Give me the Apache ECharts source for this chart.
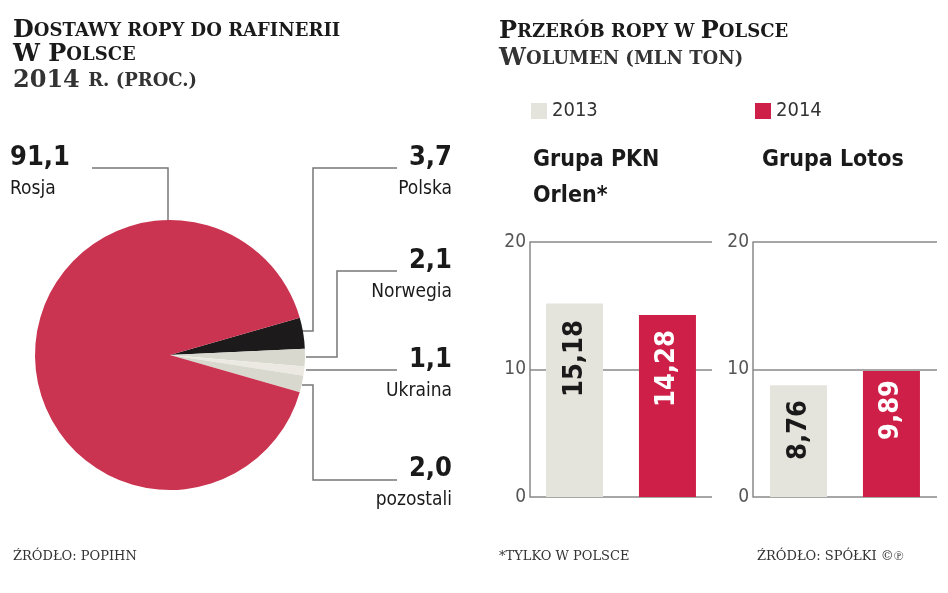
<!DOCTYPE html>
<html><head><meta charset="utf-8">
<script src="https://cdn.jsdelivr.net/npm/echarts@6/dist/echarts.min.js"></script>
<style>html,body{margin:0;background:#fff}#c{width:948px;height:593px}</style>
</head><body><div id="c"></div>
<script>
const pieNames = ['Polska','Norwegia','Ukraina','pozostali','Rosja'];
const pieValues = [3.7, 2.1, 1.1, 2.0, 91.1];
const pieColors = ['#1c1a1b','#d8d8ce','#ebe9e1','#d8d8ce','#cb3451'];
const groups = ['Grupa PKN Orlen*','Grupa Lotos'];
const years = ['2013','2014'];
const v2013 = [15.18, 8.76];
const v2014 = [14.28, 9.89];
const yTicks = [0,10,20];

const F = 'DejaVu Sans Condensed, DejaVu Sans, sans-serif';
const S = 'DejaVu Serif, serif';
const fmt = v => String(v.toFixed(2)).replace('.', ',');
const fmt1 = v => v.toFixed(1).replace('.', ',');

const lab = {
  Rosja:    {x:10,  y:140, align:'left',  pts:[[168,221],[168,168],[92,168]]},
  Polska:   {x:452, y:140, align:'right', pts:[[302,331],[313,331],[313,168],[397,168]]},
  Norwegia: {x:452, y:243, align:'right', pts:[[306,357],[337,357],[337,271],[397,271]]},
  Ukraina:  {x:452, y:342, align:'right', pts:[[306,370],[397,370]]},
  pozostali:{x:452, y:451, align:'right', pts:[[302,385],[313,385],[313,480],[397,480]]}
};
const barLabelDist = [[100,90],[37,57]];

const chart = echarts.init(document.getElementById('c'));
const grids = [{left:530,width:182,top:242,height:255},{left:753,width:184,top:242,height:255}];
const series = [{
  type:'pie', center:[170,355], radius:135, startAngle:16, clockwise:true,
  animation:false, silent:true, avoidLabelOverlap:false,
  data: pieNames.map((n,i)=>({name:n,value:pieValues[i],itemStyle:{color:pieColors[i]}})),
  label:{show:true, formatter:p=>'{v|'+fmt1(p.value)+'}\n{n|'+p.name+'}',
    rich:{v:{fontFamily:F,fontWeight:'bold',fontSize:27,color:'#1a1a1a',lineHeight:36},
          n:{fontFamily:F,fontSize:19,color:'#1a1a1a',lineHeight:26}}},
  labelLine:{show:true, lineStyle:{color:'#777',width:1.5}},
  labelLayout: p => { const l = lab[pieNames[p.dataIndex]];
    return {x:l.x, y:l.y, align:l.align, verticalAlign:'top', hideOverlap:false, moveOverlap:null, labelLinePoints:l.pts}; }
}];
[0,1].forEach(g=>{
  series.push({type:'bar', name:years[0], xAxisIndex:g, yAxisIndex:g, data:[v2013[g]],
    barWidth:57, barGap:'63%', itemStyle:{color:'#e4e3dc'},
    label:{show:true, position:'insideBottom', rotate:90, align:'left', verticalAlign:'middle', distance:barLabelDist[g][0],
      formatter:p=>fmt(p.value), fontFamily:F, fontWeight:'bold', fontSize:27, color:'#1a1a1a'}});
  series.push({type:'bar', name:years[1], xAxisIndex:g, yAxisIndex:g, data:[v2014[g]],
    barWidth:57, itemStyle:{color:'#cd1f47'},
    label:{show:true, position:'insideBottom', rotate:90, align:'left', verticalAlign:'middle', distance:barLabelDist[g][1],
      formatter:p=>fmt(p.value), fontFamily:F, fontWeight:'bold', fontSize:27, color:'#fff'}});
});
chart.setOption({
  animation:false,
  grid: grids,
  xAxis: grids.map((g,i)=>({gridIndex:i, type:'category', data:[groups[i]], axisLine:{show:false}, axisTick:{show:false}, axisLabel:{show:false}})),
  yAxis: grids.map((g,i)=>({gridIndex:i, type:'value', min:yTicks[0], max:yTicks[2], interval:10,
    axisLine:{show:true, lineStyle:{color:'#888',width:1.5}}, axisTick:{show:false},
    axisLabel:{fontFamily:F, fontSize:19, color:'#555', margin:4},
    splitLine:{lineStyle:{color:'#888',width:1.5}}})),
  legend:[{data:[years[0]], left:526, top:96, itemWidth:16, itemHeight:16, icon:'rect', textStyle:{fontFamily:F,fontSize:20,color:'#333'}},
          {data:[years[1]], left:750, top:96, itemWidth:16, itemHeight:16, icon:'rect', textStyle:{fontFamily:F,fontSize:20,color:'#333'}}],
  title:[
    {left:8, top:14, text:'{b|D}{s|OSTAWY ROPY DO RAFINERII}\n{b|W P}{s|OLSCE}\n{r|2014 }{m|R. (PROC.)}',
     textStyle:{rich:{b:{fontFamily:S,fontWeight:'bold',fontSize:24,color:'#1a1a1a',lineHeight:24},
       s:{fontFamily:S,fontWeight:'bold',fontSize:18,color:'#1a1a1a',lineHeight:24},
       r:{fontFamily:S,fontSize:24,color:'#333',lineHeight:28},m:{fontFamily:S,fontSize:18,color:'#333',lineHeight:28}}}},
    {left:494, top:14, text:'{b|P}{s|RZERÓB ROPY W }{b|P}{s|OLSCE}\n{r|W}{m|OLUMEN (MLN TON)}',
     textStyle:{rich:{b:{fontFamily:S,fontWeight:'bold',fontSize:24,color:'#1a1a1a',lineHeight:26},
       s:{fontFamily:S,fontWeight:'bold',fontSize:18,color:'#1a1a1a',lineHeight:26},
       r:{fontFamily:S,fontSize:24,color:'#333',lineHeight:28},m:{fontFamily:S,fontSize:18,color:'#333',lineHeight:28}}}},
    {left:528, top:137, text:'Grupa PKN\nOrlen*', textStyle:{fontFamily:F,fontWeight:'bold',fontSize:23,color:'#1a1a1a',lineHeight:36}},
    {left:757, top:137, text:'Grupa Lotos', textStyle:{fontFamily:F,fontWeight:'bold',fontSize:23,color:'#1a1a1a',lineHeight:36}},
    {left:8, top:545, text:'ŹRÓDŁO: POPIHN', textStyle:{fontFamily:S,fontSize:13,fontWeight:'normal',color:'#333'}},
    {left:494, top:545, text:'*TYLKO W POLSCE', textStyle:{fontFamily:S,fontSize:13,fontWeight:'normal',color:'#333'}},
    {left:752, top:545, text:'ŹRÓDŁO: SPÓŁKI ©℗', textStyle:{fontFamily:S,fontSize:13,fontWeight:'normal',color:'#333'}}
  ],
  series: series
});
</script></body></html>
